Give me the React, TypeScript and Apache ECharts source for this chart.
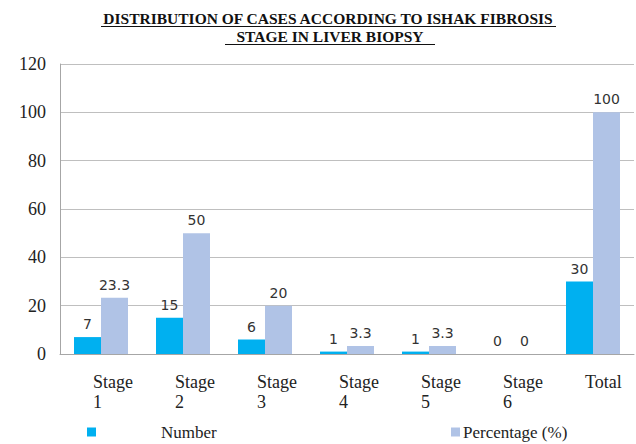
import React, { useEffect, useRef } from "react";
import * as echarts from "echarts";

const categories = ["Stage 1", "Stage 2", "Stage 3", "Stage 4", "Stage 5", "Stage 6", "Total"];
const numberValues = [7, 15, 6, 1, 1, 0, 30];
const percentValues = [23.3, 50, 20, 3.3, 3.3, 0, 100];
const titleLines = ["DISTRIBUTION OF CASES ACCORDING TO ISHAK FIBROSIS", "STAGE IN LIVER BIOPSY"];

const serif = "Liberation Serif";
const labelFont = "DejaVu Sans";

export default function App() {
  const ref = useRef<HTMLDivElement>(null);
  useEffect(() => {
    if (!ref.current) return;
    const chart = echarts.init(ref.current, undefined, { renderer: "svg" });
    const valueLabel = {
      show: true,
      position: "top" as const,
      distance: 6,
      color: "#333",
      fontFamily: labelFont,
      fontSize: 14,
    };
    const titleStyle = {
      fontFamily: serif,
      fontWeight: "bold",
      fontSize: 15.5,
      fill: "#111",
    };
    chart.setOption({
      animation: false,
      backgroundColor: "#fff",
      graphic: [
        {
          type: "text",
          x: 328,
          y: 18,
          style: { ...titleStyle, text: titleLines[0], align: "center", verticalAlign: "middle" },
        },
        {
          type: "text",
          x: 330,
          y: 36,
          style: { ...titleStyle, text: titleLines[1], align: "center", verticalAlign: "middle" },
        },
        { type: "rect", shape: { x: 101, y: 26, width: 455, height: 1 }, style: { fill: "#111" } },
        { type: "rect", shape: { x: 225, y: 44, width: 210, height: 1 }, style: { fill: "#111" } },
      ],
      legend: [
        {
          data: ["Number"],
          left: 87,
          top: 422,
          padding: 0,
          icon: "rect",
          itemWidth: 9,
          itemHeight: 9,
          textStyle: { fontFamily: serif, fontSize: 17, lineHeight: 20, color: "#222", padding: [0, 0, 0, 60] },
        },
        {
          data: ["Percentage (%)"],
          left: 451,
          top: 422,
          padding: 0,
          icon: "rect",
          itemWidth: 9,
          itemHeight: 9,
          textStyle: { fontFamily: serif, fontSize: 17, lineHeight: 20, color: "#222", padding: [0, 0, 0, -2] },
        },
      ],
      grid: { left: 60, right: 2, top: 64, bottom: 90, containLabel: false },
      xAxis: {
        type: "category",
        data: categories,
        axisLine: { show: true, lineStyle: { color: "#A6A6A6", width: 1 } },
        axisTick: { show: false },
        axisLabel: {
          formatter: (v: string) => v.replace(" ", "\n"),
          fontFamily: serif,
          fontSize: 18,
          color: "#222",
          align: "left",
          margin: 18,
          lineHeight: 20,
          padding: [0, 0, 0, -8],
        },
      },
      yAxis: {
        type: "value",
        min: 0,
        max: 120,
        interval: 20,
        axisLine: { show: true, lineStyle: { color: "#A6A6A6" } },
        axisTick: { show: false },
        splitLine: { lineStyle: { color: "#BFBFBF", width: 1 } },
        axisLabel: { fontFamily: serif, fontSize: 18, color: "#222", margin: 14 },
      },
      series: [
        {
          name: "Number",
          type: "bar",
          data: numberValues,
          barWidth: 27,
          barGap: "0%",
          itemStyle: { color: "#00B0F0" },
          label: valueLabel,
        },
        {
          name: "Percentage (%)",
          type: "bar",
          data: percentValues,
          barWidth: 27,
          barGap: "0%",
          itemStyle: { color: "#B0C3E6" },
          label: valueLabel,
        },
      ],
    });
    return () => chart.dispose();
  }, []);
  return <div ref={ref} style={{ width: 636, height: 444, position: "absolute", left: 0, top: 0 }} />;
}
